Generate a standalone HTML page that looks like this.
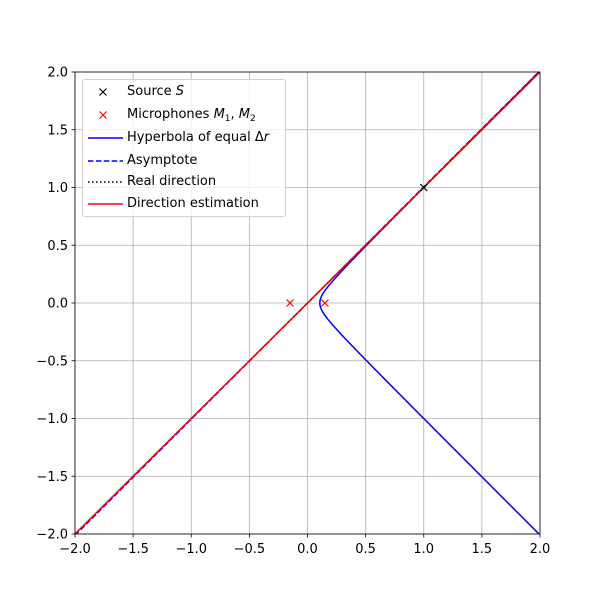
<!DOCTYPE html>
<html><head><meta charset="utf-8"><style>body{margin:0;background:#fff}svg{display:block;font-family:"DejaVu Sans","Liberation Sans",sans-serif}.lr{position:absolute;left:44px;height:22px;line-height:22px;white-space:nowrap}</style></head>
<body>
<svg id="c" width="600" height="600"></svg>
<script>
const xTicks=[-2,-1.5,-1,-0.5,0,0.5,1,1.5,2];
const yTicks=[-2,-1.5,-1,-0.5,0,0.5,1,1.5,2];
const tickLabels=["−2.0","−1.5","−1.0","−0.5","0.0","0.5","1.0","1.5","2.0"];
const source=[1,1];
const micX=[-0.15,0.15];
const micY=[0,0];
const directionX=[-2,2];
const directionY=[-2,2];
const L=75,R=540,T=72,B=534;
const sx=v=>L+(v+2)/4*(R-L), sy=v=>B-(v+2)/4*(B-T);
const NS="http://www.w3.org/2000/svg", svg=document.getElementById('c');
function mk(t,a,p){const e=document.createElementNS(NS,t);for(const k in a)e.setAttribute(k,a[k]);(p||svg).appendChild(e);return e;}
xTicks.forEach((v,i)=>{
 const g=mk('line',{x1:sx(v),x2:sx(v),y1:T,y2:B,stroke:'#b0b0b0','stroke-width':0.8});
 
 
 mk('line',{x1:sx(v),x2:sx(v),y1:B,y2:B+3.5,stroke:'#000','stroke-width':0.8});
 const t=mk('text',{x:sx(v),y:B+19,'font-size':13,'text-anchor':'middle'});t.textContent=tickLabels[i];
 
 
});
yTicks.forEach((v,i)=>{
 const g=mk('line',{x1:L,x2:R,y1:sy(v),y2:sy(v),stroke:'#b0b0b0','stroke-width':0.8});
 
 
 mk('line',{x1:L-3.5,x2:L,y1:sy(v),y2:sy(v),stroke:'#000','stroke-width':0.8});
 const t=mk('text',{x:L-7,y:sy(v)+4.5,'font-size':13,'text-anchor':'end'});t.textContent=tickLabels[i];
 
 
});
const clip=mk('clipPath',{id:'cl'});mk('rect',{x:L,y:T,width:R-L,height:B-T},clip);
const G=mk('g',{'clip-path':'url(#cl)'});
const d1=Math.hypot(source[0]-micX[0],source[1]-micY[0]),d2=Math.hypot(source[0]-micX[1],source[1]-micY[1]);
const a=(d1-d2)/2,c=(micX[1]-micX[0])/2,b=Math.sqrt(c*c-a*a);
let pts=[];for(let i=0;i<=400;i++){const y=-2+4*i/400;const x=a*Math.sqrt(1+y*y/(b*b));pts.push(sx(x)+','+sy(y));}
const h=mk('polyline',{points:pts.join(' '),fill:'none',stroke:'#0000ff','stroke-width':1.5},G);


const s=b/a;
const as=mk('line',{x1:sx(-2),y1:sy(-2*s),x2:sx(2),y2:sy(2*s),stroke:'#0000ff','stroke-width':1.5,'stroke-dasharray':'5.5,2.4'},G);


const rs=source[1]/source[0];
const rd=mk('line',{x1:sx(-2),y1:sy(-2*rs),x2:sx(2),y2:sy(2*rs),stroke:'#000','stroke-width':1.5,'stroke-dasharray':'1.5,2.5'},G);


const de=mk('line',{x1:sx(directionX[0]),y1:sy(directionY[0]),x2:sx(directionX[1]),y2:sy(directionY[1]),stroke:'#ff0000','stroke-width':1.5},G);


function cross(x,y,col,name){const p=mk('path',{d:`M${x-3.5},${y-3.5}L${x+3.5},${y+3.5}M${x-3.5},${y+3.5}L${x+3.5},${y-3.5}`,stroke:col,'stroke-width':1.2});}
micX.forEach((v,i)=>cross(sx(v),sy(micY[i]),'#ff0000','microphone-marker'));
cross(sx(source[0]),sy(source[1]),'#000','source-marker');
const fr=mk('rect',{x:L,y:T,width:R-L,height:B-T,fill:'none',stroke:'#000','stroke-width':0.8});


</script>
<div style="position:absolute;left:82px;top:79px;width:202px;height:136px;border:1px solid #d0d0d0;border-radius:3px;background:rgba(255,255,255,0.8);font-family:'DejaVu Sans','Liberation Sans',sans-serif;font-size:13px;">
<svg width="40" height="136" style="position:absolute;left:0;top:0">
<path d="M16.5,8.5L23.5,15.5M16.5,15.5L23.5,8.5" stroke="#000" stroke-width="1.2"/>
<path d="M16.5,31.5L23.5,38.5M16.5,38.5L23.5,31.5" stroke="#f00" stroke-width="1.2"/>
<line x1="5" x2="40" y1="58" y2="58" stroke="#00f" stroke-width="1.5"/>
<line x1="5" x2="40" y1="81" y2="81" stroke="#00f" stroke-width="1.5" stroke-dasharray="5.5,2.4"/>
<line x1="5" x2="40" y1="102" y2="102" stroke="#000" stroke-width="1.5" stroke-dasharray="1.5,2.5"/>
<line x1="5" x2="40" y1="124" y2="124" stroke="#f00" stroke-width="1.5"/>
</svg>
<div class="lr" style="top:1px">Source <i>S</i></div>
<div class="lr" style="top:24px">Microphones <i>M</i><span style="font-size:9px;position:relative;top:3px">1</span>, <i>M</i><span style="font-size:9px;position:relative;top:3px">2</span></div>
<div class="lr" style="top:47px">Hyperbola of equal Δ<i>r</i></div>
<div class="lr" style="top:70px">Asymptote</div>
<div class="lr" style="top:91px">Real direction</div>
<div class="lr" style="top:113px">Direction estimation</div>
</div>
</body></html>
